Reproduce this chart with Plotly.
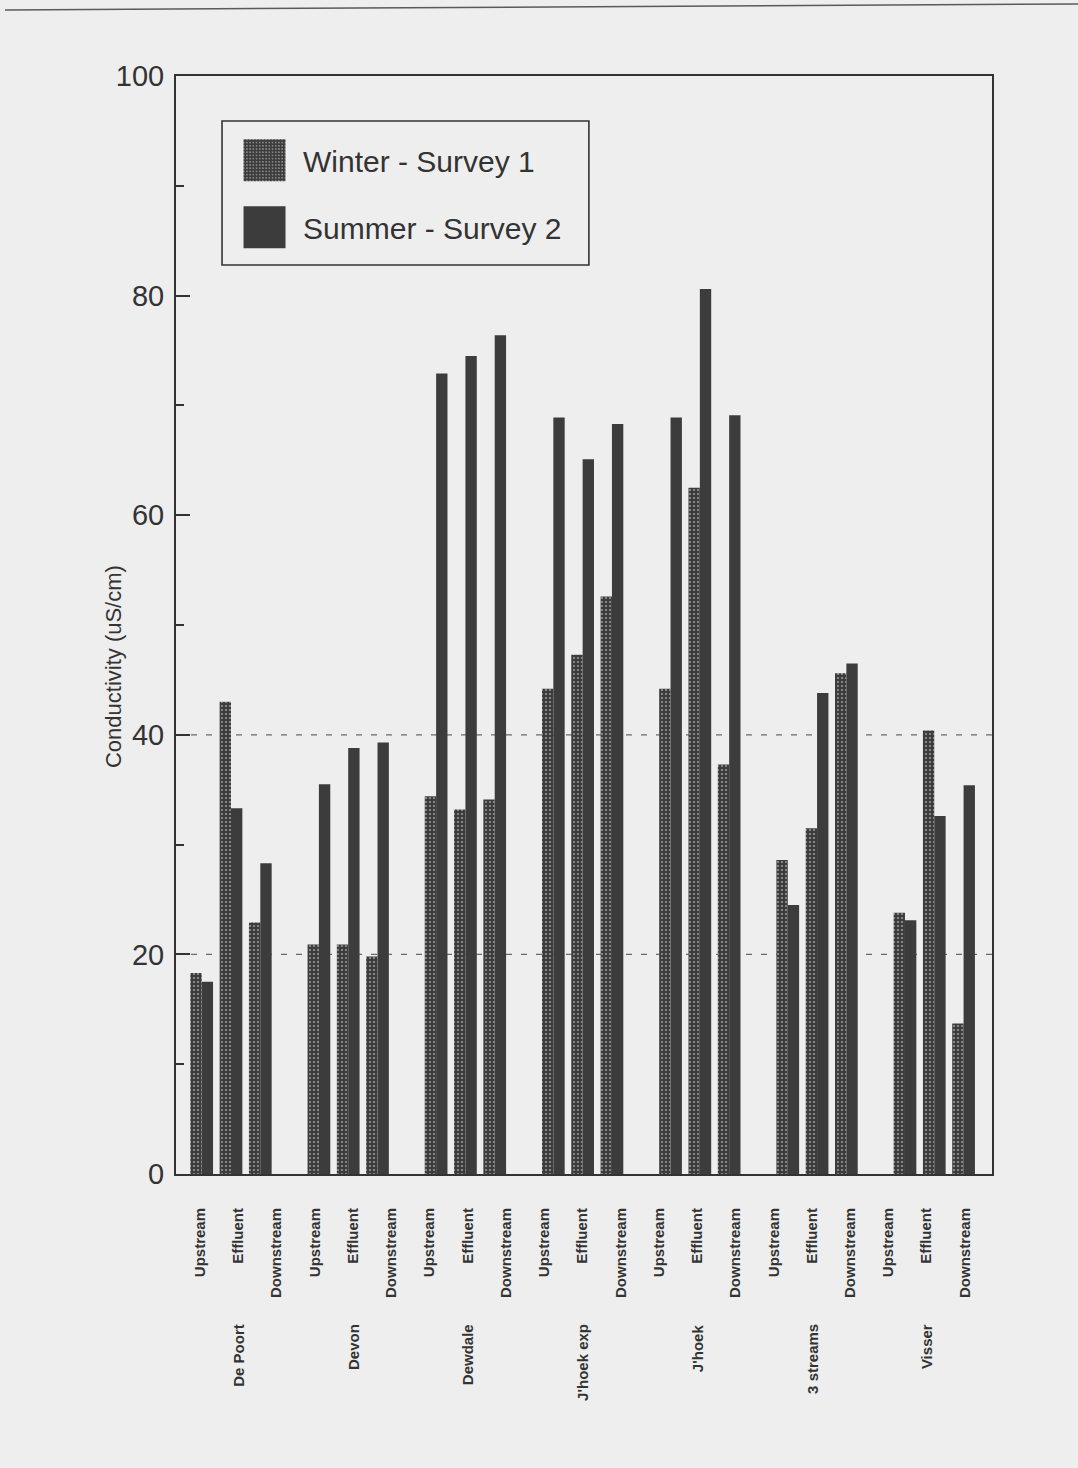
import plotly.graph_objects as go

# Sampling sites and positions along each stream
sites = ["De Poort", "Devon", "Dewdale", "J'hoek exp", "J'hoek", "3 streams", "Visser"]
positions = ["Upstream", "Effluent", "Downstream"]

# Conductivity (uS/cm), ordered site by site: Upstream, Effluent, Downstream
winter_survey1 = [18.3, 43.0, 22.9,
                  20.9, 20.9, 19.8,
                  34.4, 33.2, 34.1,
                  44.2, 47.3, 52.6,
                  44.2, 62.5, 37.3,
                  28.6, 31.5, 45.6,
                  23.8, 40.4, 13.7]
summer_survey2 = [17.5, 33.3, 28.3,
                  35.5, 38.8, 39.3,
                  72.9, 74.5, 76.4,
                  68.9, 65.1, 68.3,
                  68.9, 80.6, 69.1,
                  24.5, 43.8, 46.5,
                  23.1, 32.6, 35.4]

y_ticks = [0, 20, 40, 60, 80, 100]
dashed_levels = [20, 40]

INK = "#333333"
BAR = "#3c3c3c"
PAPER = "#eeeeee"
FONT = "Liberation Sans, Arial, Helvetica, sans-serif"

# Each site occupies three slots followed by one empty slot
n_pos = len(positions)
slot_x = [4 * s + p for s in range(len(sites)) for p in range(n_pos)]
tick_labels = [p for _ in sites for p in positions]

fig = go.Figure()

fig.add_trace(go.Bar(
    x=slot_x, y=winter_survey1, name="Winter - Survey 1",
    legendgroup="w",
    marker=dict(color=BAR, line=dict(width=0),
                pattern=dict(shape=".", fgcolor="#f2f2f2", bgcolor=BAR,
                             size=4, solidity=0.22)),
))
fig.add_trace(go.Bar(
    x=slot_x, y=summer_survey2, name="Summer - Survey 2",
    legendgroup="s",
    marker=dict(color=BAR, line=dict(width=0)),
))

# Carrier trace for the evenly spaced position labels along the bottom
fig.add_trace(go.Scatter(
    x=list(range(len(tick_labels))), y=[0] * len(tick_labels),
    xaxis="x2", mode="markers", marker=dict(opacity=0),
    showlegend=False, hoverinfo="skip",
))

# Dashed reference levels behind the bars
for lvl in dashed_levels:
    fig.add_shape(type="line", xref="paper", yref="y", x0=0, x1=1, y0=lvl, y1=lvl,
                  line=dict(color="#6a6a6a", width=1.2, dash="6px,9px"), layer="below")

# Legend frame
fig.add_shape(type="rect", xref="paper", yref="paper",
              x0=0.0564, x1=0.506, y0=0.8279, y1=0.959,
              line=dict(color=INK, width=1.6), fillcolor="rgba(0,0,0,0)")

# Page edge
fig.add_shape(type="line", xref="paper", yref="paper",
              x0=-0.2096, y0=1.0601, x1=1.1054, y1=1.0656,
              line=dict(color="#5a5a5a", width=1.5))

# Site names under each group
for i, site in enumerate(sites):
    fig.add_annotation(text="<b>%s</b>" % site, xref="x2", yref="paper",
                       x=i * n_pos + 1, y=-0.1348, xanchor="center", yanchor="top",
                       textangle=-90, showarrow=False,
                       font=dict(family=FONT, size=15, color=INK))

# Y axis title
fig.add_annotation(text="Conductivity (uS/cm)", xref="paper", yref="paper",
                   x=-0.0772, y=0.4617, xanchor="center", yanchor="middle",
                   textangle=-90, showarrow=False,
                   font=dict(family=FONT, size=22, color=INK))

fig.update_layout(
    width=1078, height=1468,
    margin=dict(l=176, r=86, t=76, b=294),
    paper_bgcolor=PAPER, plot_bgcolor=PAPER,
    font=dict(family=FONT, color=INK),
    barmode="group", bargap=0.225, bargroupgap=0,
    showlegend=True,
    legend=dict(x=0.0613, y=0.947, xanchor="left", yanchor="top",
                bgcolor="rgba(0,0,0,0)", borderwidth=0,
                font=dict(family=FONT, size=30, color=INK),
                itemwidth=67, tracegroupgap=25, traceorder="grouped"),
    xaxis=dict(range=[-0.877, 26.97], showticklabels=False, ticks="",
               showline=True, linecolor=INK, linewidth=2, mirror=True,
               showgrid=False, zeroline=False),
    xaxis2=dict(overlaying="x", anchor="y", side="bottom",
                range=[-0.627, 20.71], tickmode="array",
                tickvals=list(range(len(tick_labels))),
                ticktext=["<b>%s</b>" % t for t in tick_labels],
                tickangle=-90, ticks="", ticklabelstandoff=30,
                tickfont=dict(family=FONT, size=15, color=INK),
                showline=False, showgrid=False, zeroline=False),
    yaxis=dict(range=[0, 100], tickmode="array", tickvals=y_ticks,
               ticks="inside", ticklen=14, tickwidth=2, tickcolor=INK,
               minor=dict(ticks="inside", ticklen=8, tickwidth=1.5, dtick=10,
                          tickcolor=INK, showgrid=False),
               ticklabelstandoff=4,
               tickfont=dict(family=FONT, size=29, color=INK),
               showline=True, linecolor=INK, linewidth=2, mirror=True,
               showgrid=False, zeroline=False),
)

# Enlarge the legend swatches to the wide key boxes
post = """
var gd = document.getElementById('{plot_id}');
function widenKeys() {
  gd.querySelectorAll('g.legendpoints path').forEach(function(p) {
    p.setAttribute('d', 'M21,21H-21V-21H21Z');
  });
}
widenKeys();
gd.on('plotly_afterplot', widenKeys);
setTimeout(widenKeys, 0);
setTimeout(widenKeys, 200);
setTimeout(widenKeys, 800);
"""

fig.write_html("out.html", post_script=post)
